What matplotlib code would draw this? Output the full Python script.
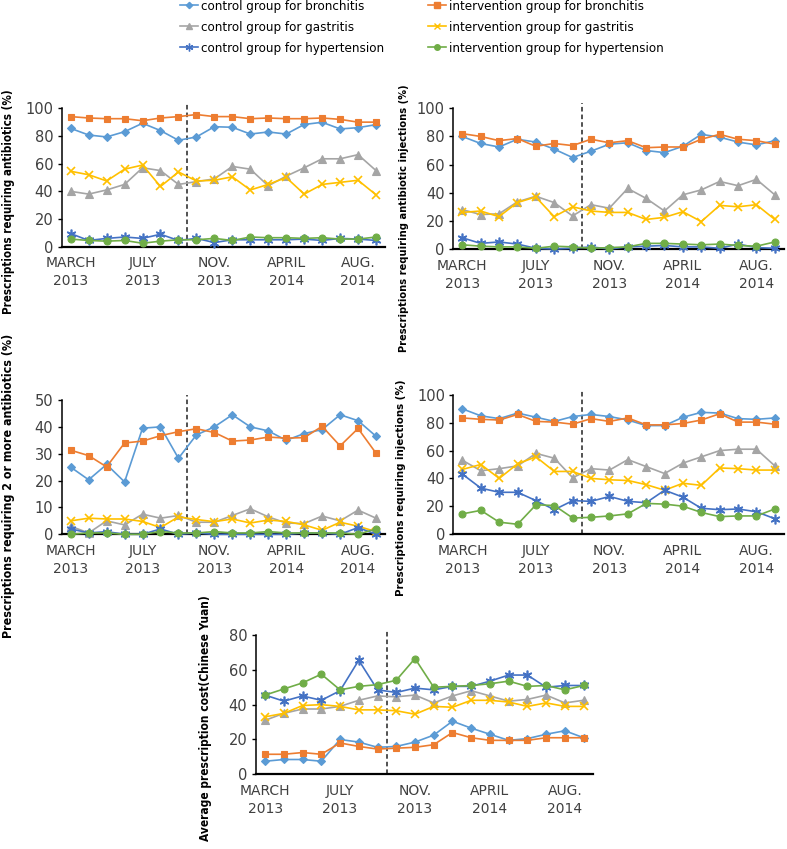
import numpy as np
import matplotlib
matplotlib.use('Agg')
import matplotlib.pyplot as plt
from matplotlib.lines import Line2D

W, H = 787, 849

# x categories: 18 months, labels every 4th
x_labels = ['MARCH\n2013', 'JULY\n2013', 'NOV.\n2013', 'APRIL\n2014', 'AUG.\n2014']
x_label_pos = [0, 4, 8, 12, 16]
n_months = 18

series_names = ['control group for bronchitis', 'intervention group for bronchitis',
                'control group for gastritis', 'intervention group for gastritis',
                'control group for hypertension', 'intervention group for hypertension']

# panel 1: prescriptions requiring antibiotics (%)
p1_cb = [85.5, 80.7, 79.3, 83.1, 89.2, 83.9, 76.9, 79.3, 86.7, 86.3, 81.4, 82.9, 81.4, 88.3, 89.9, 85.1, 86.0, 88.2]
p1_ib = [94, 93, 92.5, 92.5, 91, 93, 94, 95.5, 94, 94, 92.5, 93, 92.5, 92.5, 93, 92, 90, 90]
p1_cg = [40, 38, 41, 45, 57, 55, 45, 47, 49, 58, 56, 44, 51, 57, 63.5, 63.5, 66.5, 55]
p1_ig = [54.5, 52, 47.5, 56, 59, 43.5, 54, 47.5, 48, 50.5, 41, 45, 50, 38, 45, 46.5, 48, 37.5]
p1_ch = [9.5, 4.5, 6, 7, 6, 9, 4.5, 6, 3, 5, 5, 5, 5, 5.5, 4.5, 6, 5.5, 4.5]
p1_ih = [5.5, 4.5, 4, 4.5, 2.5, 4, 5, 5, 6, 4.5, 7, 6.5, 6.5, 6, 6.5, 5.5, 5.5, 7]

# panel 2: prescriptions requiring antibiotic injections (%)
p2_cb = [80, 75, 72.5, 78, 76, 71, 65, 69.5, 74.5, 75.5, 70, 68.5, 73, 81.5, 79.5, 76, 74, 77]
p2_ib = [82, 80, 77, 78.5, 73, 75, 73.5, 78, 75.5, 77, 72, 72.5, 72.5, 78, 81.5, 78, 77, 74.5]
p2_cg = [28, 24.5, 25, 33.5, 37.5, 33, 23.5, 31.5, 29, 43, 36, 27, 38.5, 42, 48, 45, 49.5, 38.5]
p2_ig = [26, 27, 23, 33, 37, 23, 30, 27, 26, 26, 21, 22.5, 26.5, 19.5, 31, 30, 31.5, 21]
p2_ch = [8, 4, 5, 3.5, 0.5, 0, 0.5, 1.5, 0, 1.5, 2, 2.5, 1.5, 1.5, 0.5, 3.5, 1, 0.5]
p2_ih = [3, 2, 1.5, 1.5, 0.5, 2, 1.5, 0.5, 1, 1.5, 4, 4, 3.5, 3, 3.5, 2.5, 2, 5]

# panel 3: prescriptions requiring 2 or more antibiotics (%)
p3_cb = [25, 20.3, 26, 19.5, 39.5, 40, 28.3, 37, 40, 44.5, 40, 38.5, 35, 37.5, 39, 44.5, 42.3, 36.5]
p3_ib = [31.3, 29.3, 25.1, 34, 34.7, 36.7, 38.2, 39.3, 37.9, 34.7, 35.1, 36.2, 35.8, 36, 40.2, 32.9, 39.4, 30.2]
p3_cg = [3, 0.5, 5, 3.5, 7.5, 6, 7, 4.5, 4.5, 7, 9.5, 6.5, 4.2, 4, 6.8, 5, 9, 6]
p3_ig = [5, 6, 5.7, 5.7, 4.8, 2.5, 6.5, 5.5, 4.7, 5.7, 4.2, 5.3, 4.8, 3.5, 1.5, 4.5, 3, 1]
p3_ch = [2, 0.5, 1, 0, 0, 2, 0, 0.5, 0, 0, 0, 0, 0, 0.5, 0.5, 0, 2.5, 0]
p3_ih = [0, 0.5, 0.5, 0, 0, 1, 0.5, 0.5, 1, 0.5, 0.5, 1, 0.5, 0.5, 0.5, 0.5, 0, 2]

# panel 4: prescriptions requiring injections (%)
p4_cb = [90, 85, 83, 87, 84, 81, 84.5, 86, 84.5, 82, 78, 78, 84, 87.5, 87, 83, 82.5, 83.5]
p4_ib = [83.5, 82.5, 82, 86, 81, 80.5, 79, 83, 81, 83.5, 78.5, 78.5, 79.5, 82, 86.5, 80.5, 80.5, 79]
p4_cg = [53, 45.5, 47, 49, 58, 54.5, 40.5, 47, 46, 53.5, 48.5, 43.5, 51, 55.5, 60, 61, 61, 49]
p4_ig = [46.5, 50, 40, 50.5, 55.5, 45, 45, 40, 39, 38.5, 35.5, 31.5, 36.5, 35, 47.5, 47, 46, 46]
p4_ch = [43, 33, 30, 30, 24, 17.5, 24, 23.5, 27, 23.5, 22.5, 31.5, 26.5, 18.5, 17.5, 18, 16, 11]
p4_ih = [14.5, 17, 8.5, 7, 21, 20.5, 11.5, 12, 13, 14.5, 22, 21.5, 20, 15.5, 12.5, 13, 13, 18]

# panel 5: average prescription cost (Chinese Yuan)
p5_cb = [7.5, 8.5, 8.5, 7.5, 20, 18.5, 15.5, 16, 18.5, 22.5, 30.5, 26.5, 23, 19.5, 20.5, 23, 25, 21]
p5_ib = [11.5, 11.5, 12.5, 11.5, 18, 16, 14.5, 15, 15.5, 17, 24, 21, 19.5, 19.5, 19.5, 21, 21, 21]
p5_cg = [31, 35, 37.5, 37.5, 39, 42.5, 45, 44.5, 45.5, 41, 45, 48, 45, 42, 43, 45.5, 41, 42.5]
p5_ig = [33, 35, 39.5, 40, 39, 37, 37, 36.5, 34.5, 39, 38.5, 42.5, 42.5, 41.5, 39, 41, 39, 39]
p5_ch = [45.5, 42, 45, 42.5, 48, 65.5, 48.5, 47, 49.5, 48.5, 50.5, 50.5, 53.5, 57, 57, 50, 51, 51]
p5_ih = [45.5, 49, 52.5, 57.5, 48.5, 50.5, 51.5, 54, 66.5, 50, 50.5, 51, 52, 53.5, 50.5, 51, 48.5, 51]

intervention_start = 6.5

colors = ['#5B9BD5', '#ED7D31', '#A5A5A5', '#FFC000', '#4472C4', '#70AD47']
markers = ['D', 's', '^', 'x', (6, 2, 0), 'o']
msizes = [4, 5, 5.5, 6, 7, 5]

panels = [
    dict(data=[p1_cb, p1_ib, p1_cg, p1_ig, p1_ch, p1_ih], ymax=100, step=20,
         box=(61.7, 108.3, 385, 246.7),
         ylabel='Prescriptions requiring antibiotics (%)', lab=(9, 202), fs=8.3),
    dict(data=[p2_cb, p2_ib, p2_cg, p2_ig, p2_ch, p2_ih], ymax=100, step=20,
         box=(453, 108.3, 784, 249),
         ylabel='Prescriptions requiring antibiotic injections (%)', lab=(404, 218), fs=7.9),
    dict(data=[p3_cb, p3_ib, p3_cg, p3_ig, p3_ch, p3_ih], ymax=50, step=10,
         box=(61.7, 400, 385, 534.3),
         ylabel='Prescriptions requiring 2 or more antibiotics (%)', lab=(9, 486), fs=8.9),
    dict(data=[p4_cb, p4_ib, p4_cg, p4_ig, p4_ch, p4_ih], ymax=100, step=20,
         box=(453.3, 395, 784, 534),
         ylabel='Prescriptions requiring injections (%)', lab=(401, 488), fs=8.2),
    dict(data=[p5_cb, p5_ib, p5_cg, p5_ig, p5_ch, p5_ih], ymax=80, step=20,
         box=(255.7, 635, 593, 774.3),
         ylabel='Average prescription cost(Chinese Yuan)', lab=(205, 718), fs=8.6),
]

plt.rcParams['font.family'] = ['DejaVu Sans']
fig = plt.figure(figsize=(W / 100, H / 100), dpi=100)

x = np.arange(n_months)
for p in panels:
    l, t, r, b = p['box']
    ax = fig.add_axes([l / W, 1 - b / H, (r - l) / W, (b - t) / H])
    for k in range(6):
        ax.plot(x, p['data'][k], color=colors[k], lw=1.2, marker=markers[k],
                ms=msizes[k], mew=1.2 if k in (3, 4) else 0.8, clip_on=False, zorder=3)
    ax.axvline(intervention_start, ymin=0, ymax=1.04, color='#222222', ls=(0, (3, 2)),
               lw=1.1, clip_on=False)
    ax.set_xlim(-0.5, n_months - 0.5)
    ax.set_ylim(0, p['ymax'])
    ax.set_yticks(np.arange(0, p['ymax'] + 1, p['step']))
    ax.set_xticks(x_label_pos)
    ax.set_xticklabels(x_labels, linespacing=1.35)
    ax.tick_params(axis='x', length=0, pad=7, labelsize=10, labelcolor='#404040')
    ax.tick_params(axis='y', length=3, width=1, pad=3, labelsize=10.5, labelcolor='#404040')
    for s in ['top', 'right']:
        ax.spines[s].set_visible(False)
    ax.spines['left'].set_linewidth(1.1)
    ax.spines['bottom'].set_linewidth(1.6)
    fig.text(p['lab'][0] / W, 1 - p['lab'][1] / H, p['ylabel'], rotation=90,
             ha='center', va='center', fontsize=p['fs'], fontweight='bold',
             fontstretch='condensed', family=['DejaVu Sans'])

# legend: control groups in the left column, intervention groups in the right
order = [0, 2, 4, 1, 3, 5]
handles = [Line2D([0], [0], color=colors[k], lw=1.2, marker=markers[k],
                  ms=msizes[k] * 0.8, mew=1.0) for k in order]
labels = [series_names[k] for k in order]
fig.legend(handles, labels, ncol=2, loc='upper left',
           bbox_to_anchor=(180 / W, 1 - 0 / H), frameon=False,
           prop=dict(size=9.5, stretch='condensed', family='DejaVu Sans'),
           borderpad=0, borderaxespad=0,
           handlelength=1.36, handletextpad=0.23, columnspacing=3.3, labelspacing=0.6)

fig.savefig('out.png', dpi=100)
